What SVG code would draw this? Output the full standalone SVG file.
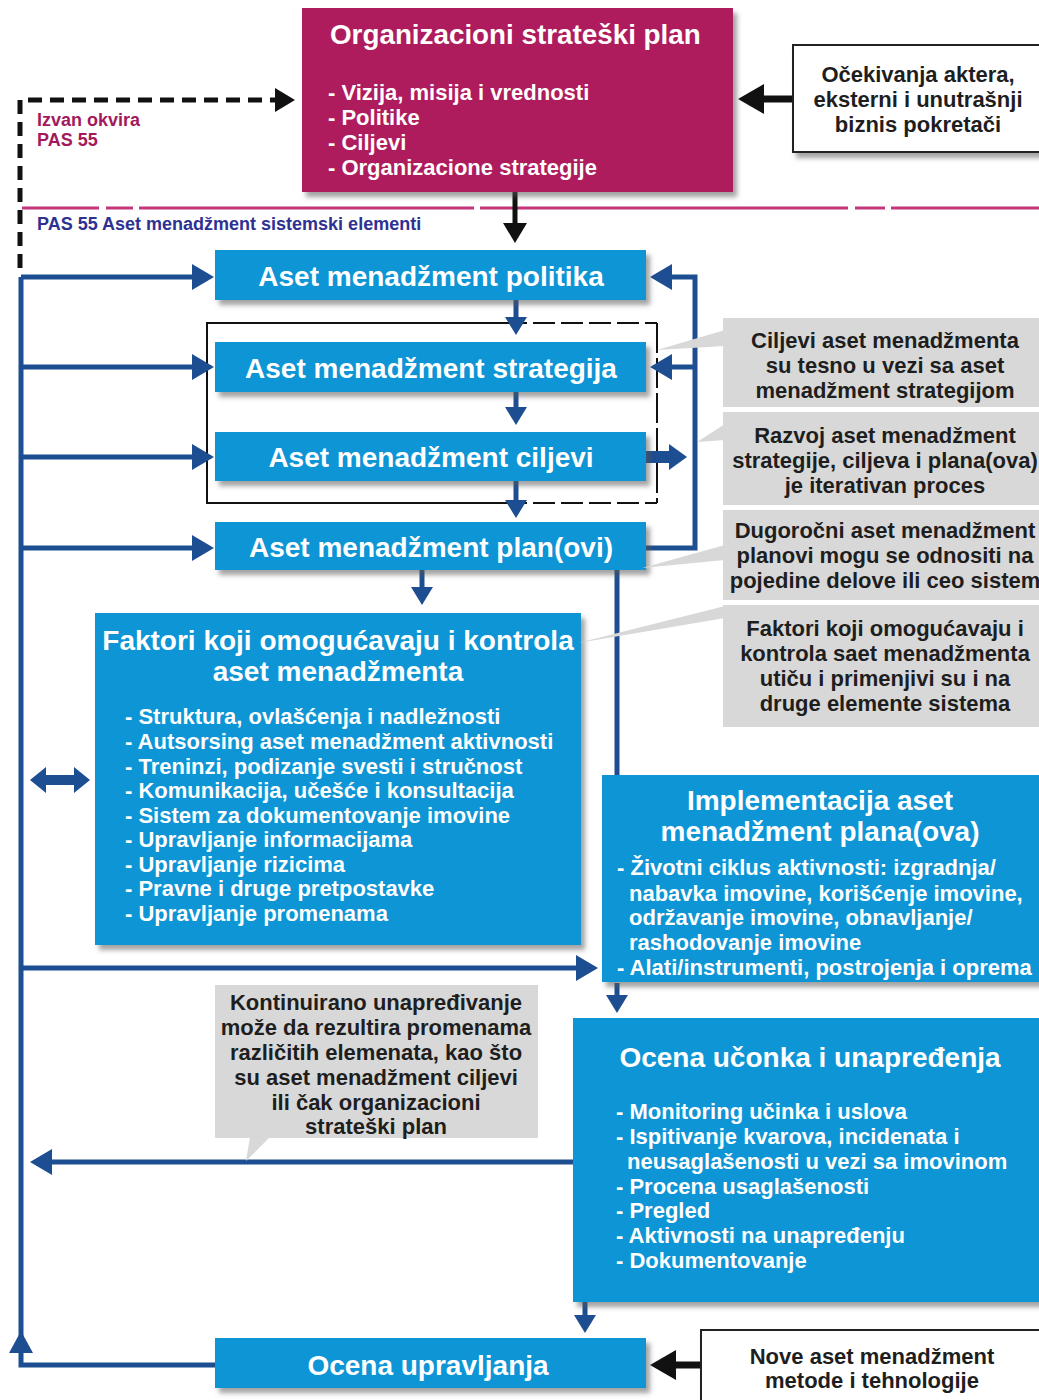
<svg xmlns="http://www.w3.org/2000/svg" width="1039" height="1400" viewBox="0 0 1039 1400">
<style>
text{font-family:"Liberation Sans",Arial,sans-serif;font-weight:bold}
.blue{fill:#0D95D5}
.mag{fill:#AF1C5D}
.gray{fill:#D8D8D8}
.wbox{fill:#fff;stroke:#222;stroke-width:2}
.t28{font-size:28px;fill:#fff;text-anchor:middle}
.b22{font-size:22px;fill:#fff}
.c21{font-size:22px;fill:#1e1e1e;text-anchor:middle}
.conn{stroke:#1D4E91;stroke-width:5;fill:none}
.blk{stroke:#111;fill:none}
.pink{stroke:#C2357A;stroke-width:3}
</style>
<defs>
<filter id="sh" x="-5%" y="-5%" width="115%" height="130%">
<feDropShadow dx="4" dy="5" stdDeviation="2.5" flood-color="#555" flood-opacity="0.55"/>
</filter>
<marker id="ah" markerUnits="userSpaceOnUse" markerWidth="22" markerHeight="26" refX="10" refY="13" orient="auto"><path d="M0,0 L22,13 L0,26 z" fill="#1D4E91"/></marker>
<marker id="ahs" markerUnits="userSpaceOnUse" markerWidth="18" markerHeight="22" refX="8" refY="11" orient="auto"><path d="M0,0 L18,11 L0,22 z" fill="#1D4E91"/></marker>
<marker id="ahb" markerUnits="userSpaceOnUse" markerWidth="20" markerHeight="24" refX="8" refY="12" orient="auto"><path d="M0,0 L20,12 L0,24 z" fill="#111"/></marker>
<marker id="ahbl" markerUnits="userSpaceOnUse" markerWidth="26" markerHeight="30" refX="12" refY="15" orient="auto"><path d="M0,0 L26,15 L0,30 z" fill="#111"/></marker>
</defs>
<rect width="1039" height="1400" fill="#fff"/>

<g id="separator">
<line class="pink" x1="22" y1="208" x2="99" y2="208"/>
<line class="pink" x1="106" y1="208" x2="133" y2="208"/>
<line class="pink" x1="139" y1="208" x2="474" y2="208"/>
<line class="pink" x1="480" y1="208" x2="848" y2="208"/>
<line class="pink" x1="855" y1="208" x2="885" y2="208"/>
<line class="pink" x1="891" y1="208" x2="1039" y2="208"/>
<text x="37" y="126" font-size="18" fill="#A3195B">Izvan okvira</text>
<text x="37" y="146" font-size="18" fill="#A3195B">PAS 55</text>
<text x="37" y="230" font-size="18" fill="#2E3192">PAS 55 Aset menadžment sistemski elementi</text>
</g>

<g id="frame">
<line class="blk" stroke-width="2" x1="207" y1="323" x2="207" y2="503"/>
<line class="blk" stroke-width="2" x1="206" y1="323" x2="505" y2="323"/>
<line class="blk" stroke-width="2" x1="206" y1="503" x2="505" y2="503"/>
<line class="blk" stroke-width="2" x1="505" y1="323" x2="657" y2="323" stroke-dasharray="22,6"/>
<line class="blk" stroke-width="2" x1="505" y1="503" x2="657" y2="503" stroke-dasharray="22,6"/>
<line class="blk" stroke-width="2" x1="657" y1="323" x2="657" y2="503" stroke-dasharray="30,5"/>
</g>

<g id="connectors">
<path class="blk" stroke-width="5" stroke-dasharray="14,8" d="M20,268 V100 H283" marker-end="url(#ahb)"/>
<path class="blk" stroke-width="5" d="M515,192 V231" marker-end="url(#ahb)"/>
<path class="blk" stroke-width="7" d="M793,99 H752" marker-end="url(#ahbl)"/>
<path class="blk" stroke-width="7" d="M701,1365 H664" marker-end="url(#ahbl)"/>
<path class="conn" d="M215,1365 H21 V277"/>
<polygon points="21,1331 9,1353 33,1353" fill="#1D4E91"/>
<path class="conn" d="M21,277 H202" marker-end="url(#ah)"/>
<path class="conn" d="M21,367 H202" marker-end="url(#ah)"/>
<path class="conn" d="M21,457 H202" marker-end="url(#ah)"/>
<path class="conn" stroke-width="9" d="M21,548 H202" marker-end="url(#ah)"/>
<path class="conn" d="M21,968 H586" marker-end="url(#ah)"/>
<path class="conn" d="M573,1162 H42" marker-end="url(#ah)"/>
<path class="conn" d="M516,300 V325" marker-end="url(#ahs)"/>
<path class="conn" d="M516,392 V415" marker-end="url(#ahs)"/>
<path class="conn" d="M516,481 V508" marker-end="url(#ahs)"/>
<path class="conn" d="M422,570 V595" marker-end="url(#ahs)"/>
<path class="conn" d="M617,983 V1003" marker-end="url(#ahs)"/>
<path class="conn" d="M585,1302 V1323" marker-end="url(#ahs)"/>
<path class="conn" d="M646,548 H695 V277 H662" marker-end="url(#ah)"/>
<path class="conn" d="M695,367 H662" marker-end="url(#ah)"/>
<path class="conn" d="M617,570 V775"/>
<polygon points="646,451 669,451 669,444 687,457 669,470 669,463 646,463" fill="#1D4E91"/>
<polygon points="30,780 46,767 46,775 74,775 74,767 90,780 74,793 74,785 46,785 46,793" fill="#1D4E91"/>
</g>

<g id="org-plan">
<rect class="mag" x="302" y="8" width="431" height="184" filter="url(#sh)"/>
<text x="330" y="44" font-size="27.8" fill="#fff">Organizacioni strateški plan</text>
<text x="328" y="100" font-size="22" fill="#fff">- Vizija, misija i vrednosti</text>
<text x="328" y="125" font-size="22" fill="#fff">- Politike</text>
<text x="328" y="150" font-size="22" fill="#fff">- Ciljevi</text>
<text x="328" y="175" font-size="22" fill="#fff">- Organizacione strategije</text>
</g>

<g id="stakeholders">
<rect class="wbox" x="793" y="45" width="252" height="107" filter="url(#sh)"/>
<text class="c21" x="918" y="82">Očekivanja aktera,</text>
<text class="c21" x="918" y="107">eksterni i unutrašnji</text>
<text class="c21" x="918" y="132">biznis pokretači</text>
</g>

<g id="policy">
<rect class="blue" x="215" y="250" width="431" height="50" filter="url(#sh)"/>
<text class="t28" x="431" y="286">Aset menadžment politika</text>
</g>
<g id="strategy">
<rect class="blue" x="215" y="342" width="431" height="50" filter="url(#sh)"/>
<text class="t28" x="431" y="378">Aset menadžment strategija</text>
</g>
<g id="objectives">
<rect class="blue" x="215" y="432" width="431" height="49" filter="url(#sh)"/>
<text class="t28" x="431" y="467">Aset menadžment ciljevi</text>
</g>
<g id="plans">
<rect class="blue" x="215" y="522" width="431" height="48" filter="url(#sh)"/>
<text class="t28" x="431" y="557">Aset menadžment plan(ovi)</text>
</g>

<g id="enablers">
<rect class="blue" x="95" y="613" width="486" height="332" filter="url(#sh)"/>
<text class="t28" x="338" y="650">Faktori koji omogućavaju i kontrola</text>
<text class="t28" x="338" y="681">aset menadžmenta</text>
<text class="b22" x="125" y="724">- Struktura, ovlašćenja i nadležnosti</text>
<text class="b22" x="125" y="749">- Autsorsing aset menadžment aktivnosti</text>
<text class="b22" x="125" y="774">- Treninzi, podizanje svesti i stručnost</text>
<text class="b22" x="125" y="798">- Komunikacija, učešće i konsultacija</text>
<text class="b22" x="125" y="823">- Sistem za dokumentovanje imovine</text>
<text class="b22" x="125" y="847">- Upravljanje informacijama</text>
<text class="b22" x="125" y="872">- Upravljanje rizicima</text>
<text class="b22" x="125" y="896">- Pravne i druge pretpostavke</text>
<text class="b22" x="125" y="921">- Upravljanje promenama</text>
</g>

<g id="implementation">
<rect class="blue" x="602" y="775" width="445" height="207" filter="url(#sh)"/>
<text class="t28" x="820" y="810">Implementacija aset</text>
<text class="t28" x="820" y="841">menadžment plana(ova)</text>
<text class="b22" x="617" y="875">- Životni ciklus aktivnosti: izgradnja/</text>
<text class="b22" x="629" y="901">nabavka imovine, korišćenje imovine,</text>
<text class="b22" x="629" y="925">održavanje imovine, obnavljanje/</text>
<text class="b22" x="629" y="950">rashodovanje imovine</text>
<text class="b22" x="617" y="975">- Alati/instrumenti, postrojenja i oprema</text>
</g>

<g id="performance">
<rect class="blue" x="573" y="1018" width="474" height="284" filter="url(#sh)"/>
<text class="t28" x="810" y="1067">Ocena učonka i unapređenja</text>
<text class="b22" x="616" y="1119">- Monitoring učinka i uslova</text>
<text class="b22" x="616" y="1144">- Ispitivanje kvarova, incidenata i</text>
<text class="b22" x="627" y="1169">neusaglašenosti u vezi sa imovinom</text>
<text class="b22" x="616" y="1194">- Procena usaglašenosti</text>
<text class="b22" x="616" y="1218">- Pregled</text>
<text class="b22" x="616" y="1243">- Aktivnosti na unapređenju</text>
<text class="b22" x="616" y="1268">- Dokumentovanje</text>
</g>

<g id="management-review">
<rect class="blue" x="215" y="1338" width="431" height="50" filter="url(#sh)"/>
<text class="t28" x="428" y="1375">Ocena upravljanja</text>
</g>

<g id="new-methods">
<rect class="wbox" x="701" y="1330" width="345" height="80" filter="url(#sh)"/>
<text class="c21" x="872" y="1364">Nove aset menadžment</text>
<text class="c21" x="872" y="1388">metode i tehnologije</text>
</g>

<g id="note-objectives">
<polygon class="gray" points="725,330 725,346 657,350"/>
<rect class="gray" x="723" y="318" width="320" height="89"/>
<text class="c21" x="885" y="348">Ciljevi aset menadžmenta</text>
<text class="c21" x="885" y="373">su tesno u vezi sa aset</text>
<text class="c21" x="885" y="398">menadžment strategijom</text>
</g>
<g id="note-iterative">
<polygon class="gray" points="725,424 725,440 697,442"/>
<rect class="gray" x="723" y="412" width="320" height="93"/>
<text class="c21" x="885" y="443">Razvoj aset menadžment</text>
<text class="c21" x="885" y="468">strategije, ciljeva i plana(ova)</text>
<text class="c21" x="885" y="493">je iterativan proces</text>
</g>
<g id="note-longterm">
<polygon class="gray" points="725,545 725,560 642,568"/>
<rect class="gray" x="723" y="510" width="320" height="90"/>
<text class="c21" x="885" y="538">Dugoročni aset menadžment</text>
<text class="c21" x="885" y="563">planovi mogu se odnositi na</text>
<text class="c21" x="885" y="588">pojedine delove ili ceo sistem</text>
</g>
<g id="note-enablers">
<polygon class="gray" points="725,606 725,618 578,643"/>
<rect class="gray" x="723" y="605" width="320" height="122"/>
<text class="c21" x="885" y="636">Faktori koji omogućavaju i</text>
<text class="c21" x="885" y="661">kontrola saet menadžmenta</text>
<text class="c21" x="885" y="686">utiču i primenjivi su i na</text>
<text class="c21" x="885" y="711">druge elemente sistema</text>
</g>
<g id="note-improvement">
<polygon class="gray" points="250,1137 270,1137 246,1161"/>
<rect class="gray" x="215" y="985" width="323" height="153"/>
<text class="c21" x="376" y="1010">Kontinuirano unapređivanje</text>
<text class="c21" x="376" y="1035">može da rezultira promenama</text>
<text class="c21" x="376" y="1060">različitih elemenata, kao što</text>
<text class="c21" x="376" y="1085">su aset menadžment ciljevi</text>
<text class="c21" x="376" y="1110">ili čak organizacioni</text>
<text class="c21" x="376" y="1134">strateški plan</text>
</g>
</svg>
